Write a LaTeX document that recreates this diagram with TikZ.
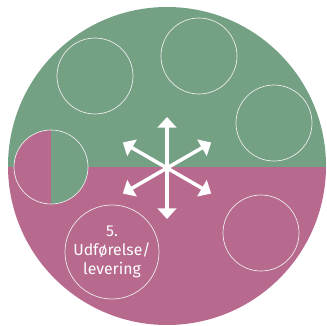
\documentclass[tikz,border=0pt]{standalone}
\usepackage{fontspec}
\setsansfont{Fira Sans}
\usetikzlibrary{arrows.meta}
\definecolor{sage}{HTML}{74A084}
\definecolor{mauve}{HTML}{B8698E}

\begin{document}
\begin{tikzpicture}[x=0.03cm, y=-0.03cm,
    ringNode/.style={circle, draw=white!92!black, line width=0.6pt, minimum size=2.28cm, inner sep=0pt},
    spokeArrow/.style={-{Triangle[length=3.2mm, width=5.6mm]}, line width=3pt, draw=white}
]
    \useasboundingbox (0,0) rectangle (327,325);
    \begin{scope}
        \clip (167,166) circle[radius=159];
        \fill[sage] (0,0) rectangle (327,167);
        \fill[mauve] (0,167) rectangle (327,325);
    \end{scope}
    \begin{scope}
        \clip (51,167) circle[radius=37];
        \fill[mauve] (0,100) rectangle (51,240);
        \fill[sage] (51,100) rectangle (110,240);
    \end{scope}

    \node[ringNode, minimum size=2.22cm] (plan) at (51,167) {};
    \node[ringNode] (ideaA) at (95,76) {};
    \node[ringNode] (ideaB) at (199,56) {};
    \node[ringNode] (ideaC) at (274,123) {};
    \node[ringNode] (ideaD) at (261,233) {};
    \node[ringNode, minimum size=2.82cm, text=white, align=center,
          font=\sffamily\fontsize{13.5}{16.5}\selectfont] (delivery) at (112,252) {5.\\Udførelse/\\levering};

    \coordinate (hub) at (167,168);
    \foreach \ang in {30,90,...,330}
        \draw[spokeArrow] (hub) -- ++(\ang:51) coordinate (tip\ang);
\end{tikzpicture}
\end{document}
